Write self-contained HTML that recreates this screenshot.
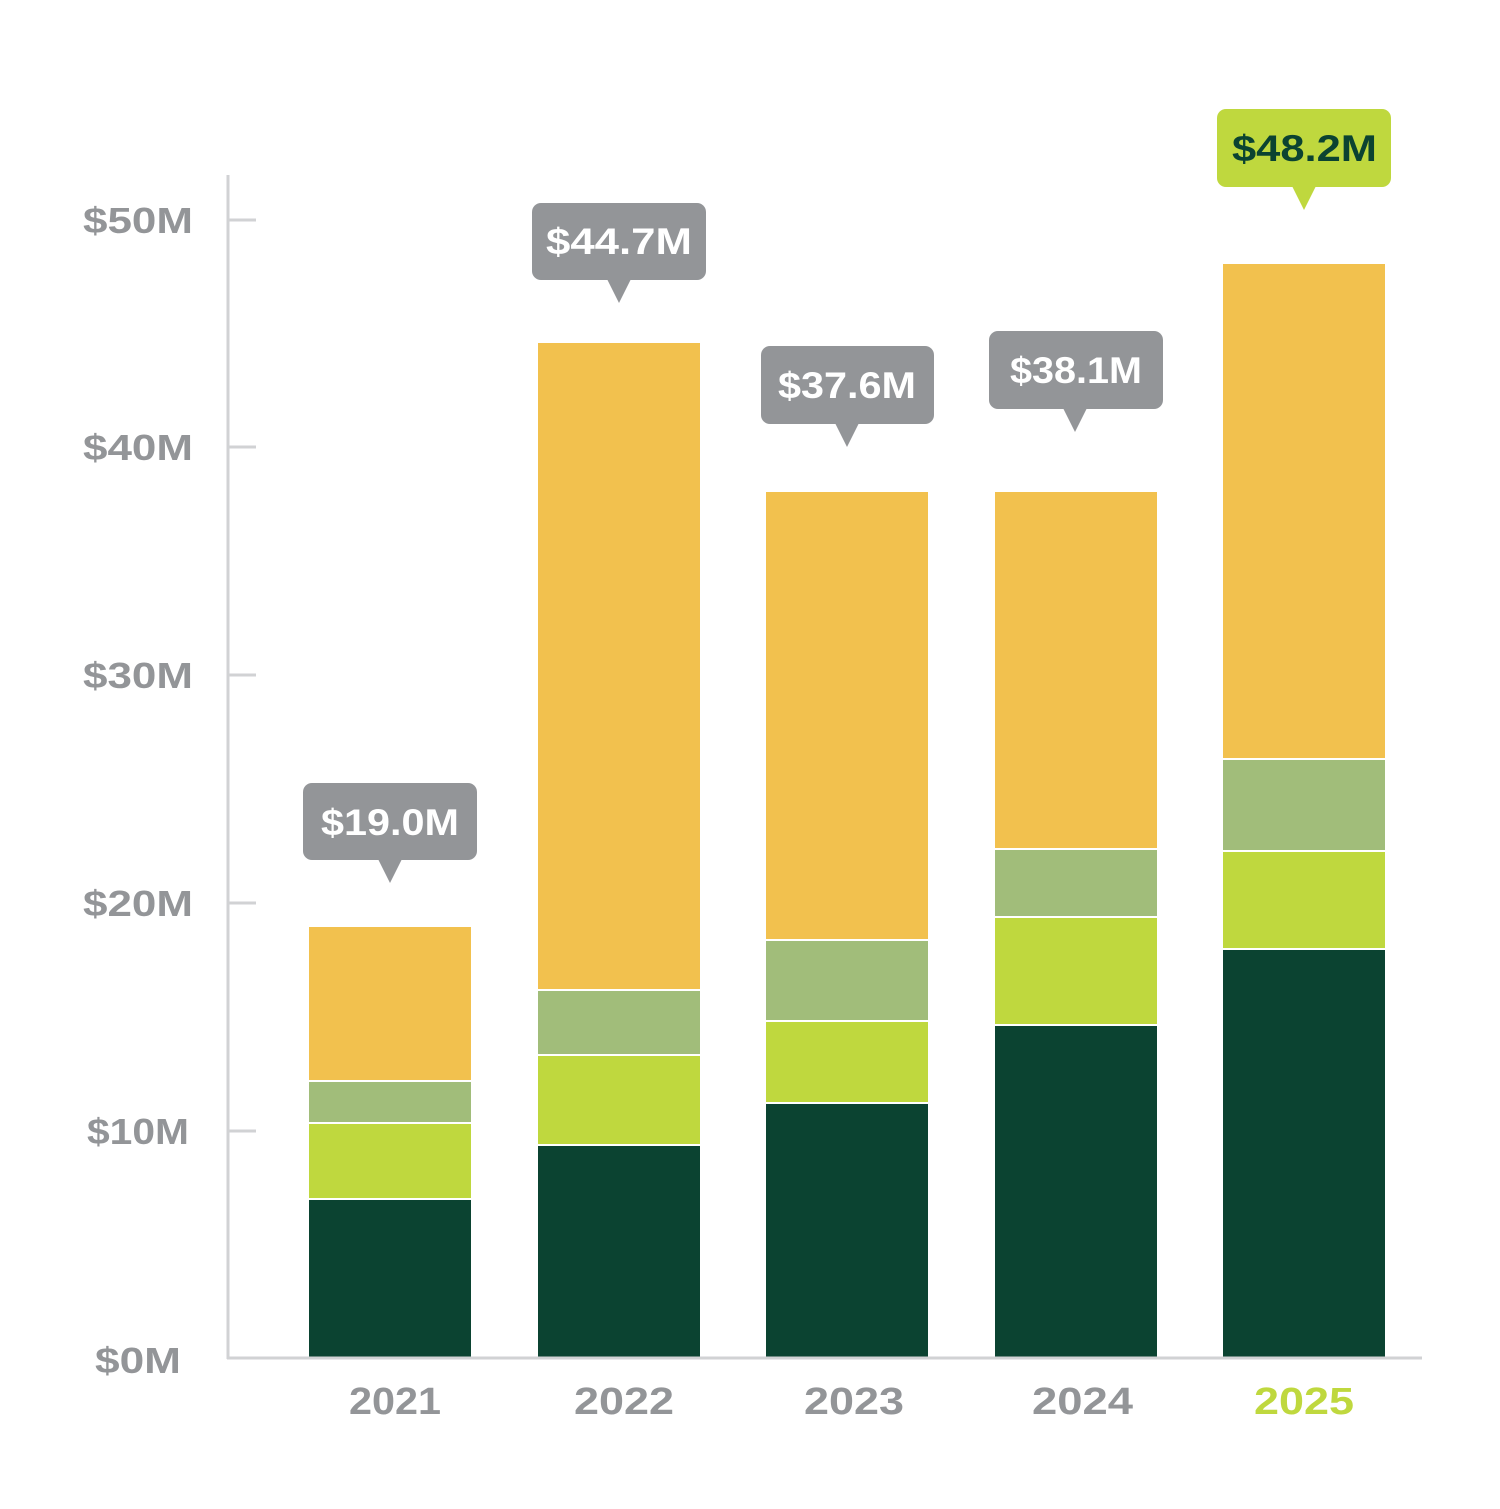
<!DOCTYPE html>
<html><head><meta charset="utf-8"><style>html,body{margin:0;padding:0;background:#fff}svg{display:block}</style></head><body>
<svg width="1500" height="1509" viewBox="0 0 1500 1509" xmlns="http://www.w3.org/2000/svg" font-family="'Liberation Sans', sans-serif" font-weight="bold">
<rect width="1500" height="1509" fill="#fff"/>
<g fill="#0b4331">
<rect x="309" y="1199" width="162" height="159"/><rect x="538" y="1145" width="162" height="213"/><rect x="766" y="1103" width="162" height="255"/><rect x="995" y="1025" width="162" height="333"/><rect x="1223" y="949" width="162" height="409"/></g>
<g fill="#bfd83e">
<rect x="309" y="1123" width="162" height="76"/><rect x="538" y="1055" width="162" height="90"/><rect x="766" y="1021" width="162" height="82"/><rect x="995" y="917" width="162" height="108"/><rect x="1223" y="851" width="162" height="98"/></g>
<g fill="#a1bd7a">
<rect x="309" y="1081" width="162" height="42"/><rect x="538" y="990" width="162" height="65"/><rect x="766" y="940" width="162" height="81"/><rect x="995" y="849" width="162" height="68"/><rect x="1223" y="759" width="162" height="92"/></g>
<g fill="#f2c14e">
<rect x="309" y="927" width="162" height="154"/><rect x="538" y="343" width="162" height="647"/><rect x="766" y="492" width="162" height="448"/><rect x="995" y="492" width="162" height="357"/><rect x="1223" y="264" width="162" height="495"/></g>
<g stroke="#fff" stroke-width="2">
<line x1="309" x2="471" y1="1081" y2="1081"/><line x1="309" x2="471" y1="1123" y2="1123"/><line x1="309" x2="471" y1="1199" y2="1199"/>
<line x1="538" x2="700" y1="990" y2="990"/><line x1="538" x2="700" y1="1055" y2="1055"/><line x1="538" x2="700" y1="1145" y2="1145"/>
<line x1="766" x2="928" y1="940" y2="940"/><line x1="766" x2="928" y1="1021" y2="1021"/><line x1="766" x2="928" y1="1103" y2="1103"/>
<line x1="995" x2="1157" y1="849" y2="849"/><line x1="995" x2="1157" y1="917" y2="917"/><line x1="995" x2="1157" y1="1025" y2="1025"/>
<line x1="1223" x2="1385" y1="759" y2="759"/><line x1="1223" x2="1385" y1="851" y2="851"/><line x1="1223" x2="1385" y1="949" y2="949"/>
</g>
<g stroke="#d1d2d4" stroke-width="3" fill="none">
<line x1="228" y1="175" x2="228" y2="1359"/><line x1="227" y1="1358" x2="1422" y2="1358"/>
<line x1="228" x2="256" y1="220" y2="220"/><line x1="228" x2="256" y1="447" y2="447"/><line x1="228" x2="256" y1="675" y2="675"/><line x1="228" x2="256" y1="903" y2="903"/><line x1="228" x2="256" y1="1131" y2="1131"/>
</g>
<g fill="#939598" font-size="36" lengthAdjust="spacingAndGlyphs">
<text x="83" y="233" textLength="110" lengthAdjust="spacingAndGlyphs">$50M</text>
<text x="83" y="460" textLength="110" lengthAdjust="spacingAndGlyphs">$40M</text>
<text x="83" y="688" textLength="110" lengthAdjust="spacingAndGlyphs">$30M</text>
<text x="83" y="916" textLength="110" lengthAdjust="spacingAndGlyphs">$20M</text>
<text x="87" y="1144" textLength="102" lengthAdjust="spacingAndGlyphs">$10M</text>
<text x="95" y="1373" textLength="86" lengthAdjust="spacingAndGlyphs">$0M</text>
</g>
<g fill="#939598" font-size="38">
<text x="349" y="1414" textLength="92" lengthAdjust="spacingAndGlyphs">2021</text>
<text x="574" y="1414" textLength="100" lengthAdjust="spacingAndGlyphs">2022</text>
<text x="804" y="1414" textLength="100" lengthAdjust="spacingAndGlyphs">2023</text>
<text x="1032" y="1414" textLength="101" lengthAdjust="spacingAndGlyphs">2024</text>
<text x="1254" y="1414" fill="#bfd83e" textLength="100" lengthAdjust="spacingAndGlyphs">2025</text>
</g>
<g fill="#939598">
<rect x="303" y="783" width="174" height="77" rx="9"/><path d="M378 859 L402 859 L390 883Z"/>
<rect x="532" y="203" width="174" height="77" rx="9"/><path d="M607 279 L631 279 L619 303Z"/>
<rect x="761" y="346" width="173" height="78" rx="9"/><path d="M835 423 L859 423 L847 447Z"/>
<rect x="989" y="331" width="174" height="78" rx="9"/><path d="M1063 408 L1087 408 L1075 432Z"/>
</g>
<g fill="#bfd83e"><rect x="1217" y="109" width="174" height="78" rx="9"/><path d="M1292 186 L1316 186 L1304 210Z"/></g>
<g fill="#fff" font-size="37">
<text x="321" y="835" textLength="138" lengthAdjust="spacingAndGlyphs">$19.0M</text>
<text x="546" y="254" textLength="146" lengthAdjust="spacingAndGlyphs">$44.7M</text>
<text x="778" y="398" textLength="138" lengthAdjust="spacingAndGlyphs">$37.6M</text>
<text x="1010" y="383" textLength="132" lengthAdjust="spacingAndGlyphs">$38.1M</text>
<text x="1232" y="161" fill="#0b4331" textLength="145" lengthAdjust="spacingAndGlyphs">$48.2M</text>
</g>
</svg>
</body></html>
